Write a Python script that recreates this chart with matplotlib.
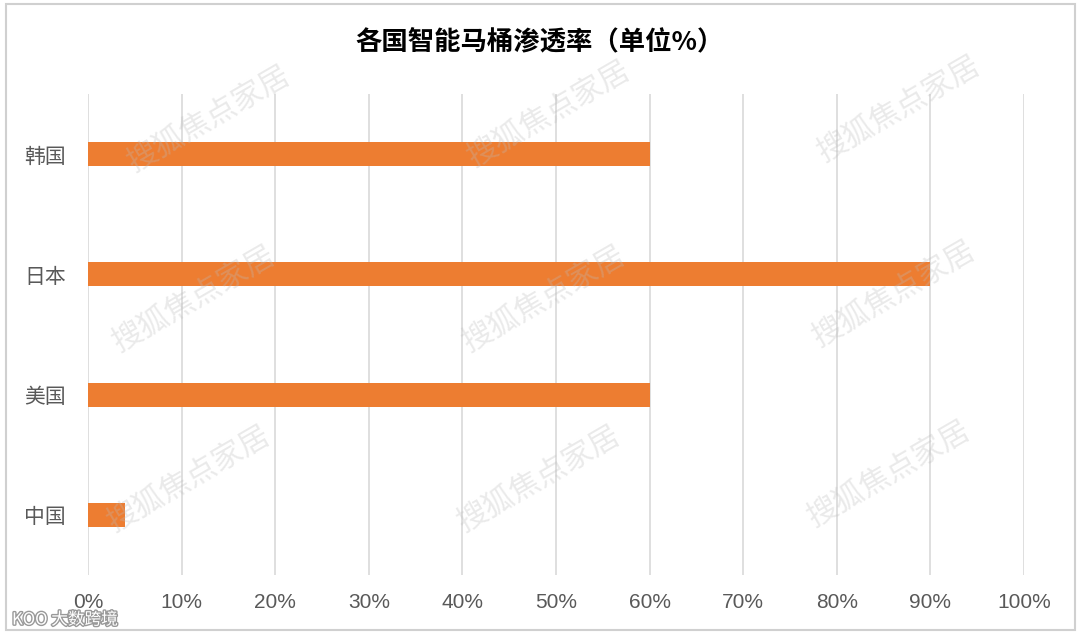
import matplotlib
matplotlib.use('Agg')
import matplotlib.pyplot as plt
import matplotlib.patheffects as pe
from matplotlib.patches import Rectangle

plt.rcParams['font.family'] = ['Noto Sans CJK SC', 'DejaVu Sans']

# 데이터
countries = ['中国', '美国', '日本', '韩国']
rates = [4, 60, 90, 60]
x_ticks = list(range(0, 101, 10))
x_tick_labels = [f'{t}%' for t in x_ticks]
title = '各国智能马桶渗透率（单位%）'

BAR_COLOR = '#ED7D31'
GRID_COLOR = '#D9D9D9'
TEXT_COLOR = '#595959'

fig = plt.figure(figsize=(10.8, 6.37), dpi=100, facecolor='white')
ax = fig.add_axes([88 / 1080, 1 - 575 / 637, (1024 - 88) / 1080, (575 - 94) / 637])

# 막대
ax.barh(range(len(countries)), rates, height=0.2, color=BAR_COLOR, zorder=3)

ax.set_xlim(0, 100)
ax.set_ylim(-0.5, len(countries) - 0.5)
ax.set_xticks(x_ticks)
ax.set_xticklabels(x_tick_labels, family=['Liberation Sans', 'DejaVu Sans'],
                   fontsize=15, color=TEXT_COLOR)
ax.set_yticks(range(len(countries)))
ax.set_yticklabels(countries, fontsize=15, color=TEXT_COLOR)
ax.tick_params(axis='both', length=0)
ax.tick_params(axis='x', pad=13)
ax.tick_params(axis='y', pad=16)
ax.grid(axis='x', color=GRID_COLOR, linewidth=1.2, zorder=0)
for spine in ax.spines.values():
    spine.set_visible(False)

fig.text(0.5, 1 - 43 / 637, title, ha='center', va='center',
         fontsize=19, fontweight='bold', color='black')

# 워터마크
wm_positions = [(210, 120), (550, 115), (900, 110),
                (195, 300), (545, 300), (895, 295),
                (190, 480), (540, 480), (890, 475)]
for px, py in wm_positions:
    fig.text(px / 1080, 1 - py / 637, '搜狐焦点家居', ha='center', va='center',
             rotation=30, fontsize=22, color='#bbbbbb', alpha=0.3, zorder=10)

fig.text(12 / 1080, 1 - 620 / 637, 'KOO 大数跨境', ha='left', va='center',
         fontsize=12, color='white', zorder=11,
         path_effects=[pe.withStroke(linewidth=2, foreground='#999999')])

# 테두리
fig.patches.append(Rectangle((6 / 1080, 1 - 630 / 637), 1069 / 1080, 626 / 637,
                             transform=fig.transFigure, fill=False,
                             edgecolor='#D0D0D0', linewidth=1.5))

plt.savefig('out.png', dpi=100, facecolor='white')
plt.close()
